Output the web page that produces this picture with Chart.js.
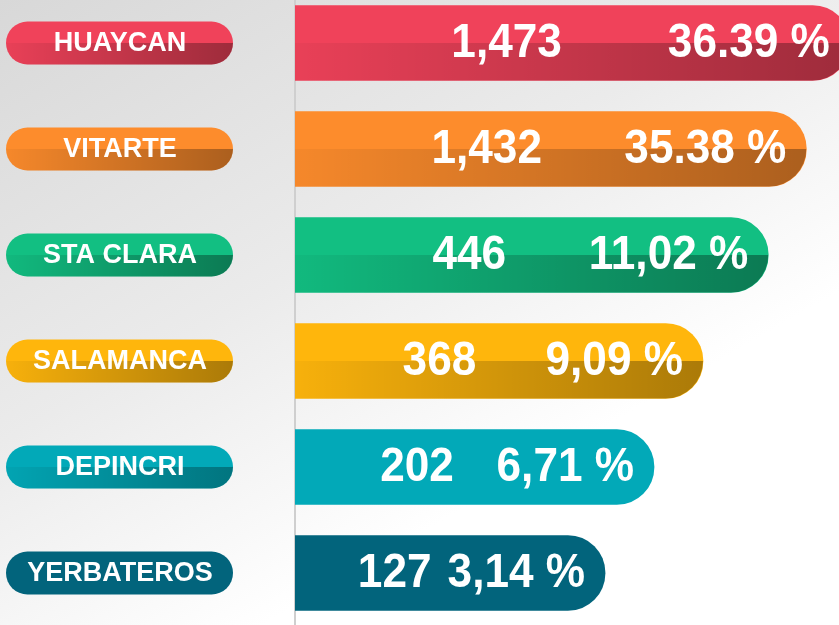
<!DOCTYPE html>
<html lang="es">
<head>
    <meta charset="UTF-8">
    <meta name="viewport" content="width=device-width, initial-scale=1.0">
    <title>Distribución por zona</title>
    <style>
        html, body {
            margin: 0;
            padding: 0;
        }
        body {
            position: relative;
            width: 839px;
            height: 625px;
            overflow: hidden;
            background: linear-gradient(150deg, #d8d8d8 0%, #ebebeb 40%, #ffffff 70%);
        }
        .chart-box {
            position: absolute;
            left: 0;
            top: -10px;
            width: 839px;
            height: 636px;
        }
    </style>
    <script src="https://cdn.jsdelivr.net/npm/chart.js@4/dist/chart.umd.min.js"></script>
</head>
<body>
    <div class="chart-box">
        <canvas id="grafica"></canvas>
    </div>
    <script>
        const zonas = ['HUAYCAN', 'VITARTE', 'STA CLARA', 'SALAMANCA', 'DEPINCRI', 'YERBATEROS'];
        const cantidades = [1473, 1432, 446, 368, 202, 127];
        const porcentajes = ['36.39 %', '35.38 %', '11,02 %', '9,09 %', '6,71 %', '3,14 %'];
        // largo visual de cada barra (no proporcional a la cantidad)
        const largoBarra = [102, 94, 87, 75, 66, 57];

        const colores = ['#f0425a', '#fd8c2c', '#12bf82', '#ffb60c', '#02a9b8', '#02647c'];
        const sombraBarra = [0.34, 0.32, 0.36, 0.33, 0, 0];
        const sombraPastilla = [0.34, 0.32, 0.36, 0.33, 0.31, 0];

        const fuente = '"Liberation Sans", Arial, sans-serif';

        function pastilla(ctx, x, y, w, h, redondoIzq, redondoDer) {
            const r = h / 2;
            ctx.beginPath();
            ctx.moveTo(x + (redondoIzq ? r : 0), y);
            if (redondoDer) {
                ctx.lineTo(x + w - r, y);
                ctx.arc(x + w - r, y + r, r, -Math.PI / 2, Math.PI / 2);
            } else {
                ctx.lineTo(x + w, y);
                ctx.lineTo(x + w, y + h);
            }
            if (redondoIzq) {
                ctx.lineTo(x + r, y + h);
                ctx.arc(x + r, y + r, r, Math.PI / 2, Math.PI * 1.5);
            } else {
                ctx.lineTo(x, y + h);
            }
            ctx.closePath();
        }

        function sombra(ctx, x0, x1, alfa) {
            const g = ctx.createLinearGradient(x0, 0, x1, 0);
            g.addColorStop(0, 'rgba(0,0,0,0.03)');
            g.addColorStop(1, 'rgba(0,0,0,' + alfa + ')');
            return g;
        }

        const decorado = {
            id: 'decorado',
            beforeDatasetsDraw(chart) {
                const ctx = chart.ctx;
                const area = chart.chartArea;
                const yScale = chart.scales.y;
                ctx.save();
                ctx.strokeStyle = '#cfcfcf';
                ctx.lineWidth = 2;
                ctx.beginPath();
                ctx.moveTo(area.left, 0);
                ctx.lineTo(area.left, chart.height);
                ctx.stroke();

                zonas.forEach((zona, i) => {
                    const cy = yScale.getPixelForValue(i);
                    const x0 = 6, x1 = 233, h = 43;
                    pastilla(ctx, x0, cy - h / 2, x1 - x0, h, true, true);
                    ctx.fillStyle = colores[i];
                    ctx.fill();
                    if (sombraPastilla[i]) {
                        ctx.save();
                        ctx.clip();
                        ctx.fillStyle = sombra(ctx, x0, x1, sombraPastilla[i]);
                        ctx.fillRect(x0, cy, x1 - x0, h / 2 + 1);
                        ctx.restore();
                    }
                    ctx.fillStyle = '#ffffff';
                    ctx.font = 'bold 27px ' + fuente;
                    ctx.textAlign = 'center';
                    ctx.textBaseline = 'middle';
                    ctx.fillText(zona, 120, cy + 1);
                });
                ctx.restore();
            },
            afterDatasetsDraw(chart) {
                const ctx = chart.ctx;
                const meta = chart.getDatasetMeta(0);
                meta.data.forEach((bar, i) => {
                    const left = bar.base;
                    const right = bar.x;
                    const h = bar.height;
                    const top = bar.y - h / 2;
                    if (sombraBarra[i]) {
                        ctx.save();
                        pastilla(ctx, left, top, right - left, h, false, true);
                        ctx.clip();
                        ctx.fillStyle = sombra(ctx, left, right, sombraBarra[i]);
                        ctx.fillRect(left, bar.y, right - left, h / 2 + 1);
                        ctx.restore();
                    }
                    const sx = 0.92;
                    const largo = right - left;
                    ctx.save();
                    ctx.fillStyle = '#ffffff';
                    ctx.font = 'bold 48px ' + fuente;
                    ctx.textBaseline = 'middle';
                    ctx.scale(sx, 1);
                    ctx.textAlign = 'right';
                    ctx.fillText(porcentajes[i], (right - 20) / sx, bar.y + 1);
                    ctx.textAlign = 'center';
                    ctx.fillText(cantidades[i].toLocaleString('en-US'), (left + 0.457 * largo - 42) / sx, bar.y + 1);
                    ctx.restore();
                });
            }
        };

        const config = {
            type: 'bar',
            data: {
                labels: zonas,
                datasets: [{
                    data: largoBarra,
                    backgroundColor: colores,
                    borderWidth: 0,
                    borderSkipped: false,
                    borderRadius: { topLeft: 0, bottomLeft: 0, topRight: 38, bottomRight: 38 },
                    barThickness: 75
                }]
            },
            options: {
                indexAxis: 'y',
                responsive: true,
                maintainAspectRatio: false,
                animation: false,
                layout: {
                    padding: { left: 295, right: 0, top: 0, bottom: 0 }
                },
                scales: {
                    x: { display: false, min: 0, max: 100 },
                    y: { display: false }
                },
                plugins: {
                    legend: { display: false },
                    tooltip: { enabled: false }
                }
            },
            plugins: [decorado]
        };

        new Chart(document.getElementById('grafica'), config);
    </script>
</body>
</html>
